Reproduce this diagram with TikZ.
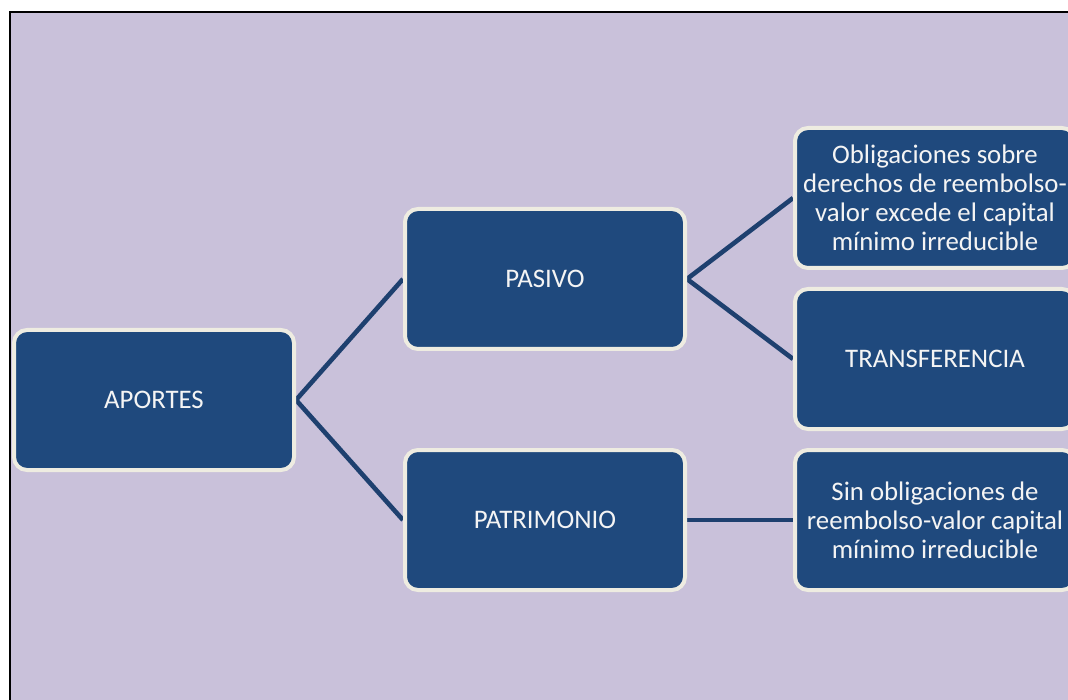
\documentclass[tikz,border=0pt]{standalone}
\usepackage{fontspec}
\setmainfont{Carlito}
\usetikzlibrary{backgrounds}
\definecolor{bgpanel}{HTML}{C9C1DA}
\definecolor{boxfill}{HTML}{1F497D}
\definecolor{boxrim}{HTML}{EEECE1}
\definecolor{linkcol}{HTML}{1E406F}
\definecolor{boxtext}{HTML}{F4F4F4}
\tikzset{
  conceptbox/.style={rectangle, rounded corners=13pt, fill=boxfill, draw=boxrim,
    line width=4pt, minimum width=280pt, minimum height=140pt, inner sep=0pt,
    align=center, text=boxtext, font=\fontsize{26.8}{29}\selectfont},
  link/.style={draw=linkcol, line width=4.6pt}
}
\begin{document}
\begin{tikzpicture}[x=1pt, y=-1pt]
  \useasboundingbox (0,0) rectangle (1068,700);
  \clip (0,0) rectangle (1068,700);

  % nodes
  \node[conceptbox] (aportes) at (154,400) {APORTES};
  \node[conceptbox] (pasivo) at (545,279) {PASIVO};
  \node[conceptbox] (patrimonio) at (545,520) {PATRIMONIO};
  \node[conceptbox] (obligaciones) at (935,198) {Obligaciones sobre\\derechos de reembolso-\\valor excede el capital\\mínimo irreducible};
  \node[conceptbox] (transferencia) at (935,359) {TRANSFERENCIA};
  \node[conceptbox] (sin) at (935,520) {Sin obligaciones de\\reembolso-valor capital\\mínimo irreducible};

  \begin{scope}[on background layer]
    % panel with its top and left rules
    \fill[white] (0,0) rectangle (1068,700);
    \fill[bgpanel] (10,12) rectangle (1068,700);
    \draw[black, line width=2.2pt] (10,700) -- (10,12) -- (1068,12);
    % connectors, tucked under the box rims
    \path[link] (aportes.east) -- (pasivo.west);
    \path[link] (aportes.east) -- (patrimonio.west);
    \path[link] (pasivo.east) -- (obligaciones.west);
    \path[link] (pasivo.east) -- (transferencia.west);
    \path[link] (patrimonio.east) -- (sin.west);
  \end{scope}
\end{tikzpicture}
\end{document}
